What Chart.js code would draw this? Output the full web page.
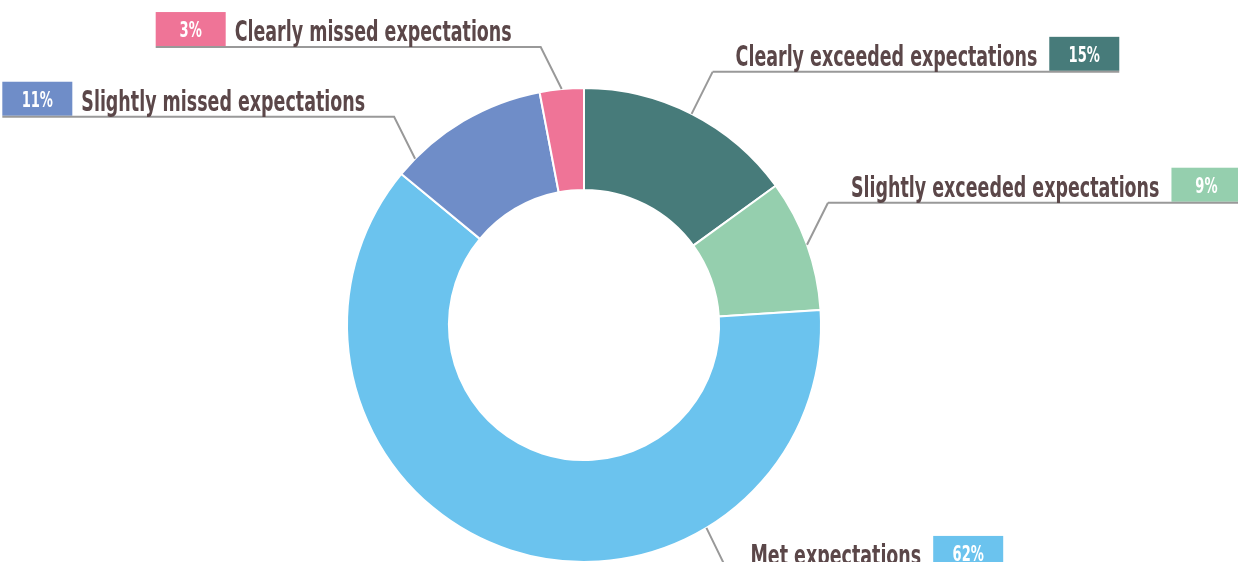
<!DOCTYPE html>
<html>
<head>
<meta charset="utf-8">
<script src="https://cdn.jsdelivr.net/npm/chart.js@4/dist/chart.umd.min.js"></script>
<style>
    html, body { margin: 0; padding: 0; background: #ffffff; overflow: hidden; }
    canvas { display: block; }
</style>
</head>
<body>
<canvas id="grafica" width="1238" height="566"></canvas>
<script type="text/javascript">

    // Categorias y porcentajes, en sentido horario desde arriba
    const categorias = ["Clearly exceeded expectations", "Slightly exceeded expectations",
                        "Met expectations", "Slightly missed expectations", "Clearly missed expectations"];
    const porcentajes = [15, 9, 62, 11, 3];
    const etiquetasPct = ["15%", "9%", "62%", "11%", "3%"];
    const colores = ["#477b7a", "#95cfae", "#6bc3ee", "#6f8dc8", "#ef7497"];

    // Donde sale la linea guia de cada etiqueta (fraccion del arco) y de que lado va el texto
    const ladoEtiqueta = ["right", "right", "right", "left", "left"];
    const fraccionAncla = [0.5, 0.5, 0.28, 0.125, 0.5];

    const colorTexto = "#5b4749";
    const colorGuia = "#999999";
    const fuente = '"Liberation Sans Narrow", "DejaVu Sans Condensed", "Roboto", sans-serif';

    const canvas = document.getElementById('grafica');
    const context = canvas.getContext('2d');

    const etiquetasGuia = {
        id: 'etiquetasGuia',
        afterDraw(chart) {
            const ctx = chart.ctx;
            const meta = chart.getDatasetMeta(0);
            ctx.save();
            ctx.font = 'bold 28px ' + fuente;
            // factor para que el texto quede condensado como en el original
            const sx = 277 / ctx.measureText("Clearly missed expectations").width;

            meta.data.forEach((arc, i) => {
                const a = arc.startAngle + (arc.endAngle - arc.startAngle) * fraccionAncla[i];
                const r = arc.outerRadius;
                const ax = arc.x + Math.cos(a) * r;
                const ay = arc.y + Math.sin(a) * r;
                const derecha = ladoEtiqueta[i] === "right";
                const bajo = Math.sin(a) > 0.5;
                const ex = ax + (derecha ? 21 : -21);
                const ey = ay + (bajo ? 43 : -42);

                ctx.font = 'bold 28px ' + fuente;
                const anchoTexto = ctx.measureText(categorias[i]).width * sx;
                const anchoCaja = 70;
                let xTexto, xCaja, xIni, xFin;
                if (derecha) {
                    xTexto = ex + 23;
                    xCaja = xTexto + anchoTexto + 12;
                    xIni = ex;
                    xFin = xCaja + anchoCaja;
                } else {
                    xTexto = ex - 29 - anchoTexto;
                    xCaja = xTexto - 9 - anchoCaja;
                    xIni = xCaja;
                    xFin = ex;
                }

                // caja de porcentaje
                ctx.fillStyle = colores[i];
                ctx.fillRect(xCaja, ey - 35, anchoCaja, 34);

                // linea guia
                ctx.strokeStyle = colorGuia;
                ctx.lineWidth = 2;
                ctx.beginPath();
                ctx.moveTo(ax, ay);
                ctx.lineTo(ex, ey);
                ctx.lineTo(xIni, ey);
                ctx.moveTo(ex, ey);
                ctx.lineTo(xFin, ey);
                ctx.stroke();

                // texto de categoria
                ctx.fillStyle = colorTexto;
                ctx.textAlign = 'left';
                ctx.textBaseline = 'alphabetic';
                ctx.save();
                ctx.translate(xTexto, ey - 6);
                ctx.scale(sx, 1);
                ctx.fillText(categorias[i], 0, 0);
                ctx.restore();

                // porcentaje
                ctx.font = 'bold 21px ' + fuente;
                ctx.fillStyle = "#ffffff";
                ctx.textAlign = 'center';
                ctx.save();
                ctx.translate(xCaja + anchoCaja / 2, ey - 10);
                ctx.scale(sx, 1);
                ctx.fillText(etiquetasPct[i], 0, 0);
                ctx.restore();
            });
            ctx.restore();
        }
    };

    window.dona = new Chart(context, {
        type: "doughnut",
        data: {
            labels: categorias,
            datasets: [{
                data: porcentajes,
                backgroundColor: colores,
                borderColor: "#ffffff",
                borderWidth: 2
            }]
        },
        options: {
            responsive: false,
            animation: false,
            cutout: "57%",
            layout: {
                padding: { left: 0, right: 70, top: 87, bottom: 3 }
            },
            plugins: {
                legend: { display: false },
                tooltip: { enabled: false }
            }
        },
        plugins: [etiquetasGuia]
    });

</script>
</body>
</html>
